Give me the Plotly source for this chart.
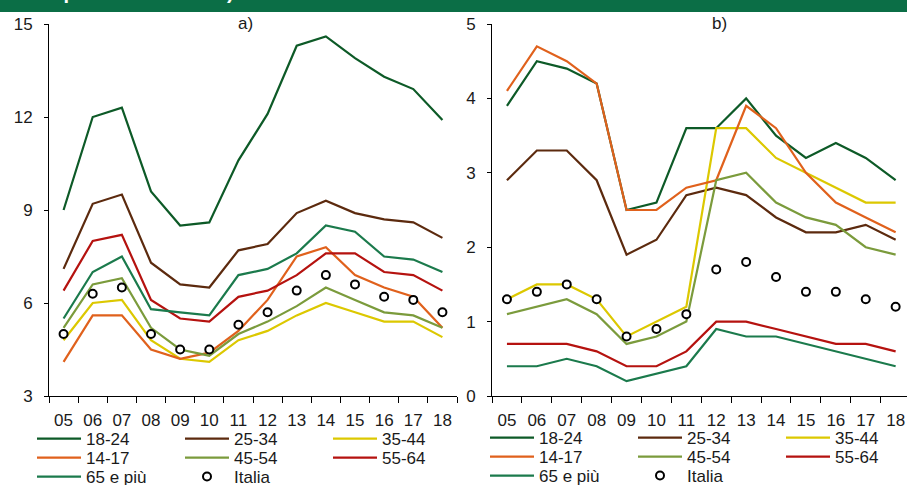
import plotly.graph_objects as go

W, H = 907, 485

years = ['05', '06', '07', '08', '09', '10', '11', '12', '13', '14', '15', '16', '17', '18']

# Panel a) values
a_1824 = [9.0, 12.0, 12.3, 9.6, 8.5, 8.6, 10.6, 12.1, 14.3, 14.6, 13.9, 13.3, 12.9, 11.9]
a_2534 = [7.1, 9.2, 9.5, 7.3, 6.6, 6.5, 7.7, 7.9, 8.9, 9.3, 8.9, 8.7, 8.6, 8.1]
a_3544 = [4.8, 6.0, 6.1, 4.8, 4.2, 4.1, 4.8, 5.1, 5.6, 6.0, 5.7, 5.4, 5.4, 4.9]
a_1417 = [4.1, 5.6, 5.6, 4.5, 4.2, 4.4, 5.1, 6.1, 7.5, 7.8, 6.9, 6.5, 6.2, 5.2]
a_4554 = [5.2, 6.6, 6.8, 5.2, 4.5, 4.3, 5.0, 5.4, 5.9, 6.5, 6.1, 5.7, 5.6, 5.2]
a_5564 = [6.4, 8.0, 8.2, 6.1, 5.5, 5.4, 6.2, 6.4, 6.9, 7.6, 7.6, 7.0, 6.9, 6.4]
a_65 = [5.5, 7.0, 7.5, 5.8, 5.7, 5.6, 6.9, 7.1, 7.6, 8.5, 8.3, 7.5, 7.4, 7.0]
a_italia = [5.0, 6.3, 6.5, 5.0, 4.5, 4.5, 5.3, 5.7, 6.4, 6.9, 6.6, 6.2, 6.1, 5.7]

# Panel b) values
b_1824 = [3.9, 4.5, 4.4, 4.2, 2.5, 2.6, 3.6, 3.6, 4.0, 3.5, 3.2, 3.4, 3.2, 2.9]
b_2534 = [2.9, 3.3, 3.3, 2.9, 1.9, 2.1, 2.7, 2.8, 2.7, 2.4, 2.2, 2.2, 2.3, 2.1]
b_3544 = [1.3, 1.5, 1.5, 1.3, 0.8, 1.0, 1.2, 3.6, 3.6, 3.2, 3.0, 2.8, 2.6, 2.6]
b_1417 = [4.1, 4.7, 4.5, 4.2, 2.5, 2.5, 2.8, 2.9, 3.9, 3.6, 3.0, 2.6, 2.4, 2.2]
b_4554 = [1.1, 1.2, 1.3, 1.1, 0.7, 0.8, 1.0, 2.9, 3.0, 2.6, 2.4, 2.3, 2.0, 1.9]
b_5564 = [0.7, 0.7, 0.7, 0.6, 0.4, 0.4, 0.6, 1.0, 1.0, 0.9, 0.8, 0.7, 0.7, 0.6]
b_65 = [0.4, 0.4, 0.5, 0.4, 0.2, 0.3, 0.4, 0.9, 0.8, 0.8, 0.7, 0.6, 0.5, 0.4]
b_italia = [1.3, 1.4, 1.5, 1.3, 0.8, 0.9, 1.1, 1.7, 1.8, 1.6, 1.4, 1.4, 1.3, 1.2]

a_ticks = [3, 6, 9, 12, 15]
b_ticks = [0, 1, 2, 3, 4, 5]

series_names = ['18-24', '25-34', '35-44', '14-17', '45-54', '55-64', '65 e più']
colors = ['#0d5a27', '#5c2a0e', '#dcc800', '#e0611c', '#7b9b3c', '#b5120f', '#1b7a4c']
a_series = [a_1824, a_2534, a_3544, a_1417, a_4554, a_5564, a_65]
b_series = [b_1824, b_2534, b_3544, b_1417, b_4554, b_5564, b_65]

FONT = 'Liberation Sans, Arial, sans-serif'
fig = go.Figure()

# shadow of the Italia markers (drawn on hidden, slightly offset axes)
fig.add_trace(go.Scatter(x=years, y=a_italia, xaxis='x', yaxis='y', mode='markers',
                         marker=dict(size=12, color='rgba(0,0,0,0.22)', line=dict(width=0)),
                         showlegend=False, hoverinfo='skip'))
fig.add_trace(go.Scatter(x=years, y=b_italia, xaxis='x2', yaxis='y2', mode='markers',
                         marker=dict(size=12, color='rgba(0,0,0,0.22)', line=dict(width=0)),
                         showlegend=False, hoverinfo='skip'))

for i, (name, col) in enumerate(zip(series_names, colors)):
    fig.add_trace(go.Scatter(x=years, y=a_series[i], xaxis='x3', yaxis='y3', mode='lines',
                             name=name, line=dict(color=col, width=2.2),
                             legendwidth=50 if i % 3 == 2 else None,
                             legend='legend' if i < 3 else 'legend%d' % (1 + i // 3)))
fig.add_trace(go.Scatter(x=years, y=a_italia, xaxis='x3', yaxis='y3', mode='markers', name='Italia',
                         marker=dict(size=8, color='white', line=dict(color='black', width=2)),
                         legendwidth=50, legend='legend3'))
for i, (name, col) in enumerate(zip(series_names, colors)):
    fig.add_trace(go.Scatter(x=years, y=b_series[i], xaxis='x4', yaxis='y4', mode='lines',
                             name=name, line=dict(color=col, width=2.2),
                             legendwidth=50 if i % 3 == 2 else None,
                             legend='legend%d' % (4 + i // 3)))
fig.add_trace(go.Scatter(x=years, y=b_italia, xaxis='x4', yaxis='y4', mode='markers', name='Italia',
                         marker=dict(size=8, color='white', line=dict(color='black', width=2)),
                         legendwidth=50, legend='legend6'))

def px_x(p):
    return p / W

def px_y(p):
    return (H - p) / H

ya_dom = [px_y(396), px_y(24)]
xa_dom = [px_x(49), px_x(457)]
xb_dom = [px_x(492), 1.0]
sh = 2

hidden = dict(visible=False, showgrid=False, zeroline=False)
xcat = dict(type='category', categoryorder='array', categoryarray=years)

fig.update_layout(
    xaxis=dict(domain=[px_x(49 + sh), px_x(457 + sh)], range=[-0.5, 13.5], anchor='y', **xcat, **hidden),
    yaxis=dict(domain=[px_y(396 + sh), px_y(24 + sh)], range=[3, 15], anchor='x', **hidden),
    xaxis2=dict(domain=[px_x(492 + sh), 1.0], range=[-0.5, 13.38 - sh / 29.9], anchor='y2', **xcat, **hidden),
    yaxis2=dict(domain=[px_y(396 + sh), px_y(24 + sh)], range=[0, 5], anchor='x2', **hidden),
)

axis_common = dict(showline=True, linecolor='black', linewidth=1, ticks='outside', tickcolor='black',
                   tickwidth=1, showgrid=False, zeroline=False, automargin=False,
                   tickfont=dict(family=FONT, size=17, color='#1a1a1a'))

fig.update_layout(
    xaxis3=dict(domain=xa_dom, range=[-0.5, 13.5], anchor='y3', tickson='boundaries', ticklen=6,
                ticklabelstandoff=9, tickangle=0, **xcat, **axis_common),
    yaxis3=dict(domain=ya_dom, range=[3, 15], anchor='x3', tickvals=a_ticks, ticklen=4,
                ticklabelstandoff=8, **axis_common),
    xaxis4=dict(domain=xb_dom, range=[-0.5, 13.38], anchor='y4', tickson='boundaries', ticklen=6,
                ticklabelstandoff=9, tickangle=0, **xcat, **axis_common),
    yaxis4=dict(domain=ya_dom, range=[0, 5], anchor='x4', tickvals=b_ticks, ticklen=4,
                ticklabelstandoff=8, **axis_common),
)

leg_common = dict(orientation='h', xanchor='left', yanchor='middle', bgcolor='rgba(0,0,0,0)',
                  font=dict(family=FONT, size=17, color='#1a1a1a'), itemwidth=44, entrywidth=89,
                  tracegroupgap=0, itemclick=False, itemdoubleclick=False)
rows_a = [439, 458, 477]
rows_b = [438, 457, 476]
for k in range(3):
    key = 'legend' if k == 0 else 'legend%d' % (k + 1)
    fig.layout[key] = dict(x=px_x(32), y=px_y(rows_a[k]), **leg_common)
    fig.layout['legend%d' % (k + 4)] = dict(x=px_x(485), y=px_y(rows_b[k]), **leg_common)

fig.update_layout(
    width=W, height=H, margin=dict(l=0, r=0, t=0, b=0, autoexpand=False),
    paper_bgcolor='white', plot_bgcolor='white',
    shapes=[dict(type='rect', xref='paper', yref='paper', x0=0, x1=1, y0=px_y(12), y1=1.05,
                 fillcolor='#0b6e46', line=dict(width=0), layer='below')],
    annotations=[
        dict(text='ritmo per 1.000 abitanti)', xref='paper', yref='paper', x=px_x(6), y=px_y(5),
             xanchor='left', yanchor='bottom', showarrow=False,
             font=dict(family=FONT, size=20, color='white', weight='bold')),
        dict(text='a)', xref='paper', yref='paper', x=px_x(245), y=px_y(23), xanchor='center',
             yanchor='middle', showarrow=False, font=dict(family=FONT, size=17, color='#1a1a1a')),
        dict(text='b)', xref='paper', yref='paper', x=px_x(719), y=px_y(23), xanchor='center',
             yanchor='middle', showarrow=False, font=dict(family=FONT, size=17, color='#1a1a1a')),
    ],
)

fig.write_html('out.html', config={'displayModeBar': False, 'staticPlot': True},
               post_script="document.body.style.margin='0px';document.body.style.overflow='hidden';")
